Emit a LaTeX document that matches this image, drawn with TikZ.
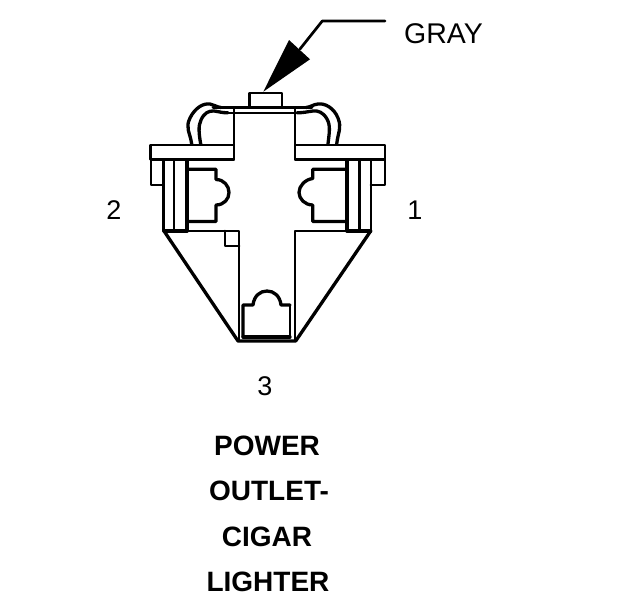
\documentclass[tikz,border=0pt]{standalone}
\usepackage{fontspec}
\setmainfont{Liberation Sans}
\begin{document}
\begin{tikzpicture}[x=1pt,y=-1pt,
  thick line/.style={line width=2.7pt,line join=round,line cap=round},
  thin line/.style={line width=2.1pt,line join=round,line cap=round},
  heavy line/.style={line width=3.3pt,line join=round,line cap=round},
  lbl/.style={inner sep=0pt,font=\fontsize{27}{27}\selectfont},
  title/.style={inner sep=0pt,font=\fontsize{28}{28}\selectfont\bfseries}]
\useasboundingbox (0,0) rectangle (624,600);
\fill[white] (0,0) rectangle (624,600);
% leader and arrowhead
\coordinate (leaderEnd) at (385,21);
\coordinate (leaderBend) at (322.3,21);
\coordinate (leaderBase) at (300,49);
\draw[thick line] (leaderEnd) -- (leaderBend) -- (leaderBase);
\fill[black] (263.3,91.7) -- (289,40) -- (310,59.3) -- cycle;
% button and top bar
\draw[thick line] (249.5,107) -- (249.5,93) -- (282,93) -- (282,107);
\draw[thick line] (213,107.5) -- (312,107.5);
\draw[thin line] (226,112.7) -- (305,112.7);
\draw[thick line] (234,107.5) -- (234,159.5);
\draw[thin line] (295,107.5) -- (295,159.5);
% wires
\draw[heavy line] (191.7,144) .. controls (190,132) and (185,128) .. (190,118) .. controls (195,108) and (203,103) .. (210,104) .. controls (214,104.5) and (216,107) .. (221,107.5);
\draw[heavy line] (200.7,144) .. controls (199,134) and (198,126) .. (201,120) .. controls (204,113) and (209,110.5) .. (214,111) .. controls (219,111.5) and (222,113) .. (228,112.7);
\draw[heavy line] (336.7,144) .. controls (338,132) and (342,128) .. (338,118) .. controls (334,108) and (325,103) .. (318,104) .. controls (313,104.5) and (311,107) .. (306,107.5);
\draw[heavy line] (328,144) .. controls (329,134) and (331,126) .. (327,119) .. controls (323,112) and (318,110.5) .. (313,111) .. controls (308,111.5) and (303,113) .. (297,112.7);
% flanges
\draw[thick line] (150.7,145) rectangle (234,159.7);
\draw[thick line] (295,145) rectangle (385,159.7);
% side tabs
\draw[thin line] (150.7,159.7) -- (150.7,185) -- (163.5,185);
\draw[thin line] (385,159.7) -- (385,185) -- (370.7,185);
% vertical bars
\draw[heavy line] (163.7,159.7) -- (163.7,231);
\draw[thin line] (174,159.7) -- (174,231);
\draw[heavy line] (187,159.7) -- (187,231);
\draw[heavy line] (347,159.7) -- (347,231);
\draw[heavy line] (359.5,159.7) -- (359.5,231);
\draw[thin line] (370.7,159.7) -- (370.7,231);
\draw[heavy line] (164,231) -- (187,231);
\draw[heavy line] (347,231) -- (370.7,231);
% left socket
\draw[heavy line] (187,169.3) -- (216,169.3) -- (216,179.5) .. controls (224,179.5) and (229,186) .. (229,192.5) .. controls (229,199) and (224,205) .. (216,205) -- (216,221.5) -- (187,221.5);
% right socket
\draw[heavy line] (346,169.3) -- (312.7,169.3) -- (312.7,178.5) .. controls (305,179.5) and (299,186) .. (299,192.5) .. controls (299,199) and (305,205) .. (312.7,205) -- (312.7,221.5) -- (346,221.5);
% lower body
\draw[thin line] (164,231) -- (239,231) -- (239,341);
\draw[thin line] (370.7,231) -- (295,231) -- (295,341);
\draw[thick line] (225,231) -- (225,246) -- (239,246);
\draw[heavy line] (164,231) -- (238,341) -- (295.7,341) -- (370.7,231);
% lower socket
\draw[heavy line] (243,337) -- (243,305) -- (253,305) .. controls (254,296) and (260,291) .. (267,291) .. controls (274,291) and (280,296) .. (281,305) -- (290,305);
\draw[thin line] (290,305) -- (290,337);
\draw[heavy line] (243,337) -- (290,337);
% labels
\node[lbl,anchor=west,font=\fontsize{28.5}{28.5}\selectfont] (gray) at (404,33.5) {GRAY};
\node[lbl] (two) at (114,210) {2};
\node[lbl] (one) at (415,210) {1};
\node[lbl] (three) at (265,386) {3};
\node[title] (power) at (267,445.5) {POWER};
\node[title] (outlet) at (269,491) {OUTLET-};
\node[title] (cigar) at (267,536.5) {CIGAR};
\node[title] (lighter) at (268,581.5) {LIGHTER};
\end{tikzpicture}
\end{document}
